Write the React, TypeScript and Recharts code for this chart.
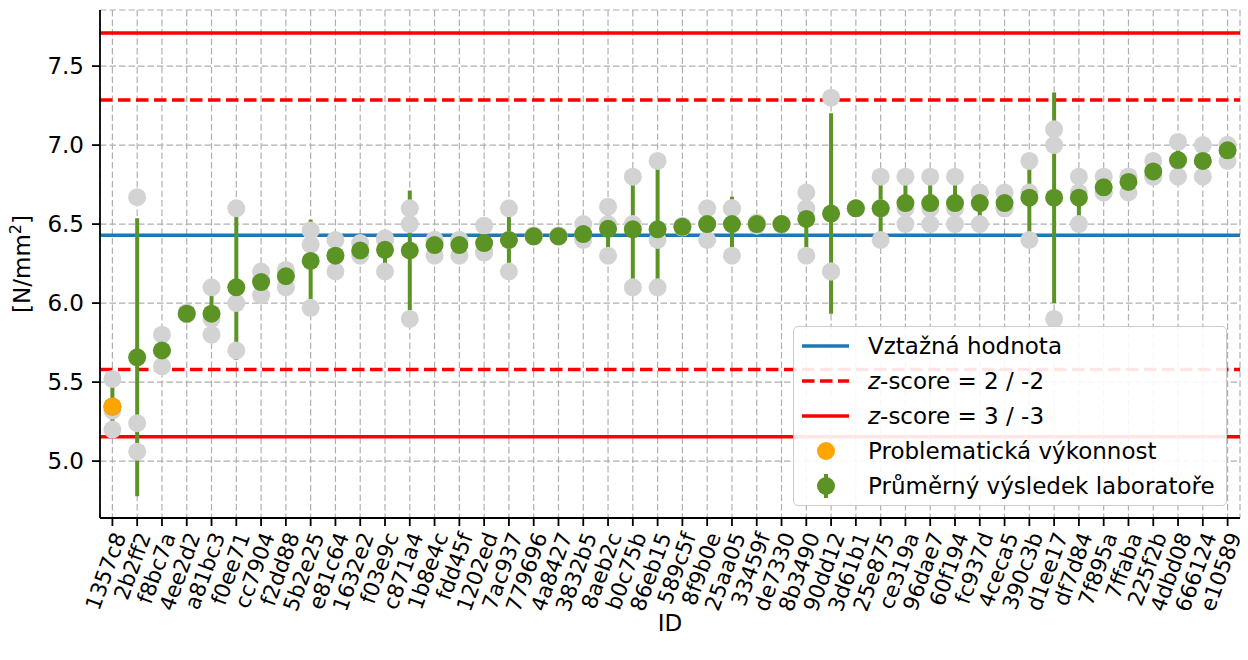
import React from 'react';
import { ComposedChart, Scatter, XAxis, YAxis, CartesianGrid, ReferenceLine, ErrorBar } from 'recharts';

const ids = ['1357c8','2b2ff2','f8bc7a','4ee2d2','a81bc3','f0ee71','cc7904','f2dd88','5b2e25','e81c64','1632e2','f03e9c','c871a4','1b8e4c','fdd45f','1202ed','7ac937','779696','4a8427','3832b5','8aeb2c','b0c75b','86eb15','589c5f','8f9b0e','25aa05','33459f','de7330','8b3490','90dd12','3d61b1','25e875','ce319a','96dae7','60f194','fc937d','4ceca5','390c3b','d1ee17','df7d84','7f895a','7ffaba','225f2b','4dbd08','666124','e10589'];
const rep1 = [5.52,6.67,5.80,5.94,6.10,6.60,6.20,6.21,6.46,6.40,6.38,6.41,6.60,6.40,6.40,6.49,6.60,6.42,6.42,6.50,6.61,6.80,6.90,6.49,6.60,6.60,6.51,6.50,6.70,7.30,6.60,6.80,6.80,6.80,6.80,6.70,6.70,6.90,7.10,6.80,6.80,6.80,6.90,7.02,7.00,7.00];
const rep2 = [5.32,5.24,5.70,5.93,5.90,6.00,6.05,6.10,6.37,6.30,6.32,6.40,6.50,6.40,6.40,6.32,6.40,6.43,6.43,6.41,6.50,6.50,6.40,6.48,6.50,6.60,6.50,6.50,6.60,6.20,6.60,6.60,6.60,6.60,6.60,6.70,6.60,6.70,7.00,6.70,6.70,6.70,6.80,6.90,6.90,6.90];
const rep3 = [5.20,5.06,5.60,5.93,5.80,5.70,6.15,6.20,5.97,6.20,6.30,6.20,5.90,6.30,6.30,6.33,6.20,6.42,6.42,6.40,6.30,6.10,6.10,6.48,6.40,6.30,6.49,6.50,6.30,6.20,6.60,6.40,6.50,6.50,6.50,6.50,6.60,6.40,5.90,6.50,6.70,6.80,6.80,6.80,6.80,7.00];
const means = [5.345,5.657,5.70,5.933,5.933,6.10,6.133,6.17,6.267,6.30,6.333,6.337,6.333,6.367,6.367,6.38,6.40,6.423,6.423,6.437,6.47,6.467,6.467,6.483,6.50,6.50,6.50,6.50,6.533,6.567,6.60,6.60,6.633,6.633,6.633,6.633,6.633,6.667,6.667,6.667,6.733,6.767,6.833,6.905,6.90,6.967];
const errs = [0.165,0.88,0.10,0.006,0.153,0.458,0.076,0.06,0.261,0.10,0.042,0.118,0.379,0.058,0.058,0.092,0.20,0.006,0.006,0.055,0.157,0.351,0.404,0.006,0.10,0.173,0.01,0,0.208,0.635,0,0.20,0.153,0.153,0.153,0.115,0.058,0.252,0.666,0.153,0.058,0.058,0.058,0.105,0.10,0.058];
const problematicIds = ['1357c8'];

const referenceValue = 6.43;
const z2Limits = [7.285, 5.58];
const z3Limits = [7.71, 5.155];
const yTicks = [5.0, 5.5, 6.0, 6.5, 7.0, 7.5];
const yDomain = [4.64, 7.855];

const legendLabels = ['Vztažná hodnota', 'z-score = 2 / -2', 'z-score = 3 / -3', 'Problematická výkonnost', 'Průměrný výsledek laboratoře'];

const FONT = '"DejaVu Sans", sans-serif';
const BLUE = '#1f77b4';
const RED = '#ff0000';
const GRAY = '#d3d3d3';
const GREEN = '#5b9325';
const ORANGE = '#ffa500';

const data = ids.map((id, i) => ({
  id,
  r1: rep1[i],
  r2: rep2[i],
  r3: rep3[i],
  mean: means[i],
  err: errs[i],
  prob: problematicIds.includes(id) ? means[i] : null,
}));

const dot = (fill: string) => (p: any) => {
  if (p == null || p.cy == null || isNaN(p.cy) || p.payload == null) return <g />;
  return <circle cx={p.cx} cy={p.cy} r={9} fill={fill} />;
};

const probDot = (p: any) => {
  if (p == null || p.payload == null || p.payload.prob == null) return <g />;
  return <circle cx={p.cx} cy={p.cy} r={9} fill={ORANGE} />;
};

const XTick = (props: any) => {
  const { x, y, payload } = props;
  const ex = x + 14;
  const ey = y + 2;
  return (
    <text x={ex} y={ey} transform={`rotate(-70, ${ex}, ${ey})`} textAnchor="end" fontFamily={FONT} fontSize={21.5} fill="#000">
      {payload.value}
    </text>
  );
};

const YTick = (props: any) => {
  const { x, y, payload } = props;
  return (
    <text x={x} y={y} dy={8} textAnchor="end" fontFamily={FONT} fontSize={23} fill="#000">
      {Number(payload.value).toFixed(1)}
    </text>
  );
};

const YLabel = (props: any) => {
  const vb = props.viewBox || { x: 30, y: 10, width: 70, height: 508 };
  const cx = 30;
  const cy = vb.y + vb.height / 2;
  return (
    <text x={cx} y={cy} transform={`rotate(-90, ${cx}, ${cy})`} textAnchor="middle" fontFamily={FONT} fontSize={23} fill="#000">
      <tspan>[N/mm</tspan>
      <tspan dy={-9} fontSize={16}>2</tspan>
      <tspan dy={9}>]</tspan>
    </text>
  );
};

const XLabel = (props: any) => {
  const vb = props.viewBox || { x: 100, y: 518, width: 1140, height: 110 };
  return (
    <text x={vb.x + vb.width / 2} y={631} textAnchor="middle" fontFamily={FONT} fontSize={23} fill="#000">
      ID
    </text>
  );
};

const LegendBox = () => {
  const rowH = 35;
  const rows = [0, 1, 2, 3, 4];
  return (
    <div
      style={{
        position: 'absolute',
        left: 793,
        top: 326,
        width: 434,
        height: 180,
        border: '1.5px solid #cccccc',
        borderRadius: 5,
        background: 'rgba(255,255,255,0.9)',
        boxSizing: 'border-box',
      }}
    >
      <svg width={432} height={178} style={{ position: 'absolute', left: 0, top: 0 }}>
        {rows.map((r) => {
          const cy = 19 + r * rowH;
          let sample: React.ReactNode = null;
          if (r === 0) sample = <line x1={8} x2={55} y1={cy} y2={cy} stroke={BLUE} strokeWidth={3.5} />;
          if (r === 1) sample = <line x1={8} x2={55} y1={cy} y2={cy} stroke={RED} strokeWidth={3.5} strokeDasharray="12.5 5.5" />;
          if (r === 2) sample = <line x1={8} x2={55} y1={cy} y2={cy} stroke={RED} strokeWidth={3.5} />;
          if (r === 3) sample = <circle cx={32} cy={cy} r={9} fill={ORANGE} />;
          if (r === 4)
            sample = (
              <g>
                <line x1={32} x2={32} y1={cy - 12} y2={cy + 12} stroke={GREEN} strokeWidth={4} />
                <circle cx={32} cy={cy} r={9} fill={GREEN} />
              </g>
            );
          const label = legendLabels[r];
          return (
            <g key={r}>
              {sample}
              <text x={74} y={cy + 8} fontFamily={FONT} fontSize={23} fill="#000">
                {r === 1 || r === 2 ? (
                  <>
                    <tspan fontStyle="italic">z</tspan>
                    <tspan>{label.slice(1)}</tspan>
                  </>
                ) : (
                  label
                )}
              </text>
            </g>
          );
        })}
      </svg>
    </div>
  );
};

export default function App() {
  return (
    <div style={{ position: 'relative', width: 1248, height: 660, background: '#fff' }}>
      <style>{'body{margin:0;}'}</style>
      <ComposedChart
        width={1248}
        height={660}
        data={data}
        margin={{ top: 10, right: 8, bottom: 32, left: 30 }}
      >
        <CartesianGrid stroke="#b0b0b0" strokeDasharray="6.5 3" strokeWidth={1.2} />
        <XAxis
          dataKey="id"
          type="category"
          interval={0}
          height={110}
          padding={{ left: 12.4, right: 12.4 }}
          tickSize={8}
          tickMargin={8}
          tick={<XTick />}
          tickLine={{ stroke: '#000', strokeWidth: 1.8 }}
          axisLine={{ stroke: '#000', strokeWidth: 1.8 }}
          label={<XLabel />}
        />
        <XAxis
          xAxisId="top"
          orientation="top"
          dataKey="id"
          height={0}
          tick={false}
          tickLine={false}
          axisLine={{ stroke: '#000', strokeWidth: 1.8 }}
        />
        <YAxis
          type="number"
          domain={yDomain}
          ticks={yTicks}
          allowDataOverflow
          width={70}
          tickSize={8}
          tickMargin={8}
          tick={<YTick />}
          tickLine={{ stroke: '#000', strokeWidth: 1.8 }}
          axisLine={{ stroke: '#000', strokeWidth: 1.8 }}
          label={<YLabel />}
        />
        <YAxis
          yAxisId="right"
          orientation="right"
          type="number"
          domain={yDomain}
          width={0}
          tick={false}
          tickLine={false}
          axisLine={{ stroke: '#000', strokeWidth: 1.8 }}
        />
        <ReferenceLine y={referenceValue} stroke={BLUE} strokeWidth={3.5} />
        <ReferenceLine y={z2Limits[0]} stroke={RED} strokeWidth={3.5} strokeDasharray="12.5 5.5" />
        <ReferenceLine y={z2Limits[1]} stroke={RED} strokeWidth={3.5} strokeDasharray="12.5 5.5" />
        <ReferenceLine y={z3Limits[0]} stroke={RED} strokeWidth={3.5} />
        <ReferenceLine y={z3Limits[1]} stroke={RED} strokeWidth={3.5} />
        <Scatter dataKey="r1" shape={dot(GRAY)} isAnimationActive={false} />
        <Scatter dataKey="r2" shape={dot(GRAY)} isAnimationActive={false} />
        <Scatter dataKey="r3" shape={dot(GRAY)} isAnimationActive={false} />
        <Scatter dataKey="mean" shape={dot(GREEN)} isAnimationActive={false}>
          <ErrorBar dataKey="err" direction="y" width={0} stroke={GREEN} strokeWidth={4} isAnimationActive={false} />
        </Scatter>
        <Scatter dataKey="prob" shape={probDot} isAnimationActive={false} />
      </ComposedChart>
      <LegendBox />
    </div>
  );
}
